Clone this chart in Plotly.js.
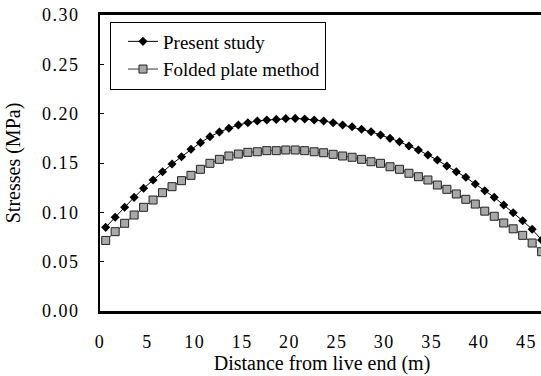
<!DOCTYPE html>
<html>
<head>
<meta charset="utf-8">
<script src="https://cdn.plot.ly/plotly-3.0.1.min.js"></script>
<style>
  html, body { margin: 0; padding: 0; overflow: hidden; background: #fff; }
  #chart { width: 545px; height: 376px; }
  .xtick text, .ytick text { letter-spacing: 1.5px; }
</style>
</head>
<body>
<div id="chart"></div>
<script>
// Distance from live end (m) of each computed point
const distances = [0.6, 1.6, 2.6, 3.6, 4.6, 5.6, 6.6, 7.6, 8.6, 9.6,
  10.6, 11.6, 12.6, 13.6, 14.6, 15.6, 16.6, 17.6, 18.6, 19.6,
  20.6, 21.6, 22.6, 23.6, 24.6, 25.6, 26.6, 27.6, 28.6, 29.6,
  30.6, 31.6, 32.6, 33.6, 34.6, 35.6, 36.6, 37.6, 38.6, 39.6,
  40.6, 41.6, 42.6, 43.6, 44.6, 45.6, 46.6];

// Stresses (MPa) - Present study
const presentStudy = [0.0848, 0.0950, 0.1051, 0.1152, 0.1244, 0.1328, 0.1412, 0.1490, 0.1564, 0.1639,
  0.1706, 0.1767, 0.1814, 0.1852, 0.1885, 0.1908, 0.1926, 0.1936, 0.1942, 0.1950,
  0.1952, 0.1946, 0.1936, 0.1926, 0.1908, 0.1885, 0.1868, 0.1842, 0.1817, 0.1784,
  0.1750, 0.1716, 0.1672, 0.1632, 0.1581, 0.1530, 0.1470, 0.1412, 0.1355, 0.1287,
  0.1219, 0.1152, 0.1074, 0.0996, 0.0915, 0.0828, 0.0720];

// Stresses (MPa) - Folded plate method
const foldedPlate = [0.0715, 0.0804, 0.0889, 0.0973, 0.1051, 0.1125, 0.1199, 0.1260, 0.1321, 0.1375,
  0.1436, 0.1497, 0.1537, 0.1571, 0.1591, 0.1608, 0.1614, 0.1625, 0.1625, 0.1632,
  0.1632, 0.1625, 0.1614, 0.1604, 0.1588, 0.1571, 0.1558, 0.1537, 0.1513, 0.1497,
  0.1462, 0.1436, 0.1396, 0.1361, 0.1328, 0.1277, 0.1233, 0.1186, 0.1132, 0.1084,
  0.1012, 0.0960, 0.0892, 0.0833, 0.0767, 0.0689, 0.0601];

const seriesNames = ["Present study", "Folded plate method"];
const xTickValues = [0, 5, 10, 15, 20, 25, 30, 35, 40, 45];
const yTickValues = [0, 0.05, 0.10, 0.15, 0.20, 0.25, 0.30];
const xTitle = "Distance from live end (m)";
const yTitle = "Stresses (MPa)";

const serif = "Liberation Serif, Times New Roman, serif";

const traces = [
  {
    x: distances, y: presentStudy, name: seriesNames[0],
    type: "scatter", mode: "lines+markers",
    line: { color: "#000", width: 1 },
    marker: { symbol: "diamond", size: 7, color: "#000", line: { width: 0 } }
  },
  {
    x: distances, y: foldedPlate, name: seriesNames[1],
    type: "scatter", mode: "lines+markers",
    line: { color: "#333", width: 1 },
    marker: { symbol: "square", size: 8, color: "#a8a8a8", line: { color: "#222", width: 1 } }
  }
];

const layout = {
  width: 545, height: 376,
  margin: { l: 100, r: 1, t: 15, b: 65 },
  paper_bgcolor: "#fff", plot_bgcolor: "#fff",
  font: { family: serif, color: "#000", size: 18 },
  showlegend: true,
  legend: {
    x: 0.0225, y: 0.978, xanchor: "left", yanchor: "top",
    bgcolor: "#fff", bordercolor: "#000", borderwidth: 1,
    font: { family: serif, size: 19, color: "#000" },
    indentation: 12
  },
  xaxis: {
    range: [0, 46.85],
    tickmode: "array", tickvals: xTickValues,
    ticktext: xTickValues.map(String),
    showgrid: false, zeroline: false,
    showline: true, linecolor: "#000", linewidth: 3, mirror: true,
    ticks: "", ticklabelstandoff: 12,
    tickfont: { family: serif, size: 18, color: "#000" },
    title: { text: xTitle, font: { family: serif, size: 20, color: "#000" }, standoff: 1 }
  },
  yaxis: {
    range: [0, 0.30],
    tickmode: "array", tickvals: yTickValues,
    ticktext: yTickValues.map(v => v.toFixed(2)),
    showgrid: false, zeroline: false,
    showline: true, linecolor: "#000", linewidth: 2, mirror: false,
    ticks: "inside", ticklen: 4, tickwidth: 1, tickcolor: "#000",
    ticklabelstandoff: 15,
    tickfont: { family: serif, size: 18, color: "#000" },
    title: { text: yTitle, font: { family: serif, size: 20, color: "#000" }, standoff: 16 }
  }
};

Plotly.newPlot("chart", traces, layout, { displayModeBar: false, staticPlot: true });
</script>
</body>
</html>
